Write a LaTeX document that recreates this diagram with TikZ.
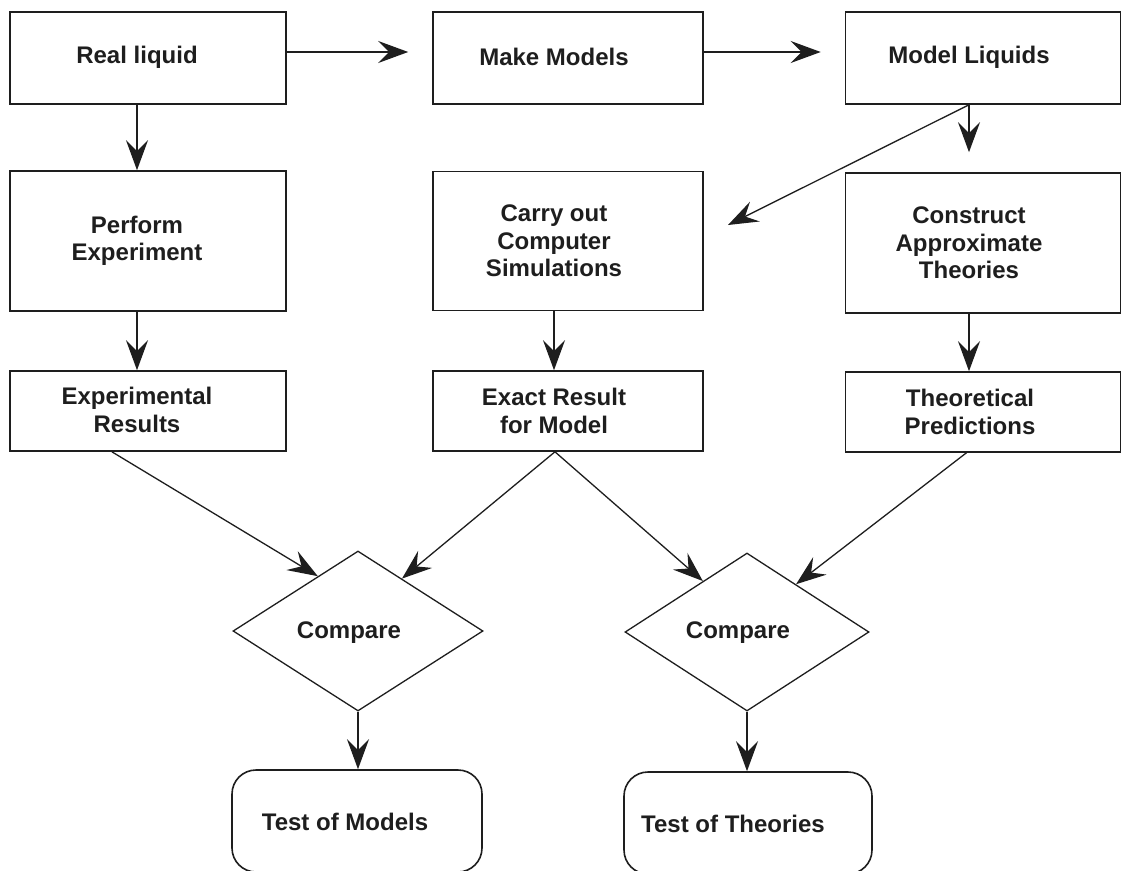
\documentclass[tikz,border=0pt]{standalone}
\usepackage{fontspec}
\setmainfont{Liberation Sans}
\usetikzlibrary{shapes.geometric,arrows.meta,calc}
\definecolor{ink}{RGB}{30,30,30}
\begin{document}
\begin{tikzpicture}[x=1pt,y=-1pt,
  box/.style={draw=ink,line width=1.6pt,rectangle,inner sep=0pt},
  lbl/.style={font=\fontsize{24}{27.5}\selectfont\bfseries,align=center,inner sep=0pt,text=ink},
  dia/.style={draw=ink,line width=1.3pt,diamond,inner sep=0pt},
  rbox/.style={draw=ink,line width=1.6pt,rectangle,rounded corners=24pt,inner sep=0pt},
  conn/.style={draw=ink,line width=1.3pt,-{Stealth[length=30pt,width=22pt,inset=11pt]}}]
\clip (0,0) rectangle (1124,870);
\fill[white] (0,0) rectangle (1124,870);
% row 1
\node[box,minimum width=276pt,minimum height=92pt] (rl) at (148,58) {};
\node[lbl] (rlt) at (137,57) {Real liquid};
\node[box,minimum width=270pt,minimum height=92pt] (mm) at (568,58) {};
\node[lbl] (mmt) at (554,57) {Make Models};
\node[box,minimum width=275pt,minimum height=92pt] (ml) at (983,58) {};
\node[lbl] (mlt) at (969,57) {Model Liquids};
% row 2
\node[box,minimum width=276pt,minimum height=140pt] (pe) at (148,241) {};
\node[lbl] (pet) at (137,241) {Perform\\Experiment};
\node[box,minimum width=270pt,minimum height=139pt] (cs) at (568,241) {};
\node[lbl] (cst) at (554,241) {Carry out\\Computer\\Simulations};
\node[box,minimum width=275pt,minimum height=140pt] (ct) at (983,243) {};
\node[lbl] (ctt) at (969,243) {Construct\\Approximate\\Theories};
% row 3
\node[box,minimum width=276pt,minimum height=80pt] (er) at (148,411) {};
\node[lbl] (ert) at (137,410) {Experimental\\Results};
\node[box,minimum width=270pt,minimum height=80pt] (ex) at (568,411) {};
\node[lbl] (ext) at (554,411) {Exact Result\\for Model};
\node[box,minimum width=275pt,minimum height=80pt] (tp) at (983,412) {};
\node[lbl] (tpt) at (970,412) {Theoretical\\Predictions};
% diamonds
\node[dia,minimum width=250pt,minimum height=160pt] (c1) at (358,631) {};
\node[lbl] (c1t) at (349,633) {Compare};
\node[dia,minimum width=244pt,minimum height=158pt] (c2) at (747,632) {};
\node[lbl] (c2t) at (738,633) {Compare};
% results
\node[rbox,minimum width=250pt,minimum height=102pt] (tm) at (357,821) {};
\node[lbl] (tmt) at (345,822) {Test of Models};
\node[rbox,minimum width=248pt,minimum height=102pt] (tt) at (748,823) {};
\node[lbl] (ttt) at (733,824) {Test of Theories};
\coordinate (dtip) at (728,225);
% connectors
\draw[conn,shorten >=24pt] ([yshift=6pt]rl.east) -- ([yshift=6pt]mm.west);
\draw[conn,shorten >=24pt] ([yshift=6pt]mm.east) -- ([yshift=6pt]ml.west);
\draw[conn] (rlt |- rl.south) -- (rlt |- pe.north);
\draw[conn,shorten >=20pt] (mlt |- ml.south) -- (mlt |- ct.north);
\draw[conn] (mlt |- ml.south) -- (dtip);
\draw[conn] (pet |- pe.south) -- (pet |- er.north);
\draw[conn] (cst |- cs.south) -- (cst |- ex.north);
\draw[conn] (ctt |- ct.south) -- (ctt |- tp.north);
\draw[conn] ($(er.south west)!0.37!(er.south east)$) -- ($(c1.west)!0.68!(c1.north)$);
\draw[conn] ($(ex.south west)!0.452!(ex.south east)$) -- ($(c1.north)!0.35!(c1.east)$);
\draw[conn] ($(ex.south west)!0.452!(ex.south east)$) -- ($(c2.west)!0.64!(c2.north)$);
\draw[conn] ($(tp.south west)!0.44!(tp.south east)$) -- ($(c2.north)!0.40!(c2.east)$);
\draw[conn] (c1.south) -- (c1.south |- tm.north);
\draw[conn] (c2.south) -- (c2.south |- tt.north);
\end{tikzpicture}
\end{document}
